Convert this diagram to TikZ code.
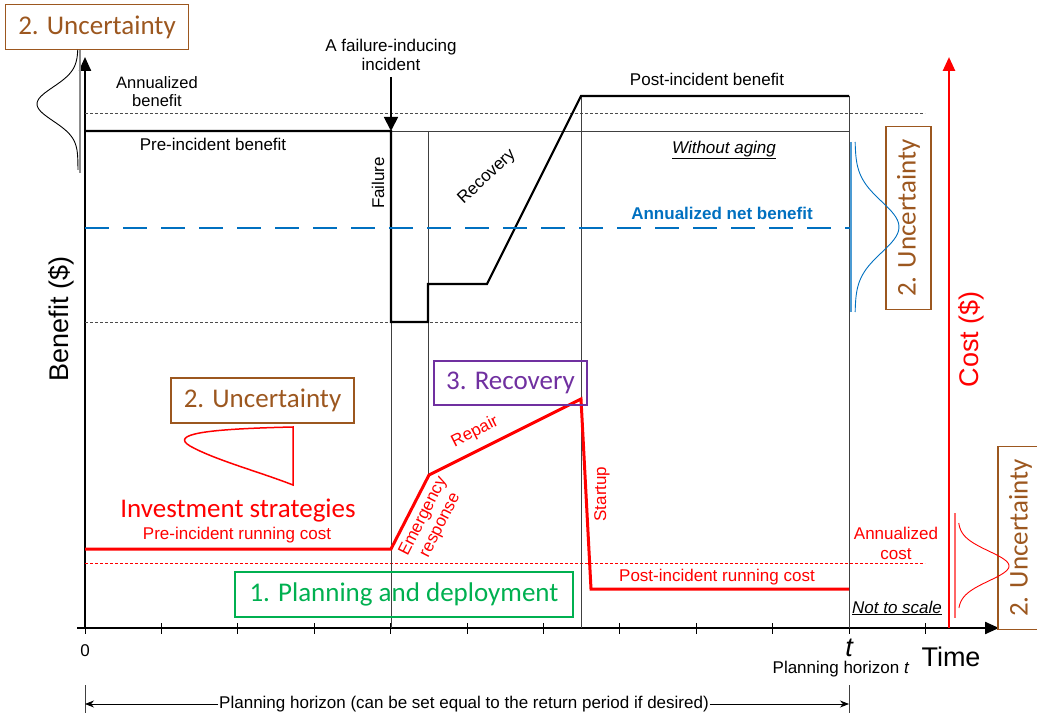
\documentclass[tikz,border=0pt]{standalone}
\usepackage{fontspec}
\setmainfont{Liberation Sans}
\newfontfamily\calibri{Carlito}
\usetikzlibrary{arrows.meta, positioning, calc}
\definecolor{uncbrown}{RGB}{156,87,31}
\definecolor{recpurple}{RGB}{112,48,160}
\definecolor{plangreen}{RGB}{0,176,80}
\definecolor{netblue}{RGB}{0,112,192}
\tikzset{
  phasebox/.style={rectangle, draw, line width=1.5pt, font=\calibri\fontsize{27}{30}\selectfont, minimum height=45pt, inner sep=0pt},
  uncbox/.style={phasebox, draw=uncbrown, text=uncbrown, minimum width=183pt},
  txt/.style={font=\fontsize{17}{19}\selectfont, inner sep=0pt, align=center},
  benefit/.style={line width=2.2pt, line join=miter},
  cost/.style={red, line width=3pt, line join=miter},
  thinline/.style={black!75, line width=0.7pt},
  guide/.style={black!70, line width=0.6pt, dash pattern=on 3pt off 2pt},
  axis/.style={line width=2.2pt, -{Triangle[length=14pt,width=12pt]}}
}

\begin{document}
\begin{tikzpicture}[
            x=1pt, y=-1pt,
            bigtxt/.style={font=\fontsize{27}{30}\selectfont, inner sep=0pt},
            bell/.style={line width=0.9pt, smooth},
            dim/.style={line width=0.8pt, -{Stealth[length=9pt,width=7pt]}}
        ]
            \useasboundingbox (0,0) rectangle (1037,719);

            % --- Ejes ---
            \coordinate (xstart) at (77,628);
            \coordinate (origin) at (85,628);
            \coordinate (xend) at (999,628);
            \coordinate (yend) at (85,57);
            \coordinate (cstart) at (949,628);
            \coordinate (cend) at (949,57);
            \draw[axis] (xstart) -- (xend);
            \draw[axis] (origin) -- (yend);
            \draw[axis, red, line width=2.6pt] (cstart) -- (cend);
            \foreach \i in {0,...,11}
                \draw[line width=1pt] ({85+76.4*\i},623) -- ++(0,11);

            \node (benefitlab) [bigtxt, rotate=90] at (61,319) {Benefit (\$)};
            \node (costlab) [bigtxt, rotate=90, text=red] at (971,339) {Cost (\$)};
            \node (timelab) [bigtxt] at (951,657) {Time};
            \node (zero) [txt] at (85,651) {0};
            \node (tlab) [bigtxt, font=\itshape\fontsize{27}{30}\selectfont] at (849,648) {t};
            \node (horizonlab) [txt] at (841,669) {Planning horizon \textit{t}};

            % --- Lineas guia ---
            \draw[guide] (85,113) -- (925,113);
            \draw[guide] (85,322) -- (581,322);
            \draw[guide, red] (85,563) -- (925,563);
            \draw[thinline] (391,131) -- (849,131);
            \draw[thinline] (391,131) -- (391,628);
            \draw[thinline] (428,131) -- (428,475);
            \draw[thinline] (581,96) -- (581,628);
            \draw[thinline] (849,96) -- (849,628);

            % --- Beneficio ---
            \coordinate (b0) at (85,131);
            \coordinate (inc) at (391,131);
            \coordinate (fl) at (391,322);
            \coordinate (fr) at (428,322);
            \coordinate (er) at (428,284);
            \coordinate (rs) at (487,284);
            \coordinate (re) at (581,96);
            \coordinate (bend) at (849,96);
            \draw[benefit] (b0) -- (inc) -- (fl) -- (fr) -- (er) -- (rs) -- (re) -- (bend);
            \draw[netblue, line width=2.6pt, dash pattern=on 24pt off 14pt] (85,228) -- (851,228);

            \node (incident) [txt] at (391,55) {A failure-inducing\\incident};
            \coordinate (arrtop) at (391,77);
            \draw[line width=1.8pt, -{Triangle[length=14pt,width=14pt]}] (arrtop) -- (inc);

            \node (annben) [txt, font=\fontsize{16.5}{18}\selectfont] at (157,92) {Annualized\\benefit};
            \node (preben) [txt] at (213,144) {Pre-incident benefit};
            \node (failure) [txt, rotate=90] at (378,183) {Failure};
            \node (recovery) [txt, rotate=43] at (487,177) {Recovery};
            \node (postben) [txt] at (707,79) {Post-incident benefit};
            \node (noaging) [txt, font=\itshape\fontsize{17}{19}\selectfont] at (724,150) {\underline{Without aging}};
            \node (netben) [txt, font=\bfseries\fontsize{17}{19}\selectfont, text=netblue] at (722,213) {Annualized net benefit};

            % --- Costo ---
            \coordinate (c0) at (85,549);
            \coordinate (ci) at (391,549);
            \coordinate (ce) at (429,475);
            \coordinate (cr) at (581,399);
            \coordinate (cs) at (591,589);
            \coordinate (cfin) at (849,589);
            \draw[cost] (c0) -- (ci) -- (ce) -- (cr) -- (cs) -- (cfin);

            \node (invest) [font=\calibri\fontsize{27}{30}\selectfont, text=red, inner sep=0pt] at (238,511) {Investment strategies};
            \node (precost) [txt, text=red] at (237,535) {Pre-incident running cost};
            \node (emerg) [txt, text=red, rotate=63] at (432,521) {Emergency\\response};
            \node (repair) [txt, text=red, rotate=27] at (475,432) {Repair};
            \node (startup) [txt, text=red, rotate=90] at (602,494) {Startup};
            \node (postcost) [txt, text=red] at (717,577) {Post-incident running cost};
            \node (anncost) [txt, text=red, font=\fontsize{17}{20}\selectfont] at (896,543) {Annualized\\cost};
            \node (noscale) [txt, font=\itshape\fontsize{17}{19}\selectfont] at (897,608) {\underline{Not to scale}};

            % --- Cajas ---
            \node (unc1) [uncbox] at (97,27) {2. Uncertainty};
            \node (unc2) [uncbox] at (262.5,400.5) {2. Uncertainty};
            \node (unc3) [uncbox, rotate=90] at (908.5,218) {2. Uncertainty};
            \node (unc4) [uncbox, rotate=90] at (1020.5,538) {2. Uncertainty};
            \node (rec) [phasebox, draw=recpurple, text=recpurple, minimum width=153pt, minimum height=44pt] at (510.5,383) {3. Recovery};
            \node (plan) [phasebox, draw=plangreen, text=plangreen, minimum width=338pt] at (404,594.5) {1. Planning and deployment};

            % --- Distribuciones ---
            \draw[black!45, line width=1.2pt] (80,50) -- (80,173);
            \draw[bell] plot[domain=50:170, samples=60] ({78-41*exp(-((\x-104)/24)^2)}, \x);
            \draw[netblue!70, line width=1.2pt] (851,142) -- (851,312);
            \draw[bell, netblue] plot[domain=142:312, samples=60] ({855+44*exp(-((\x-227)/36)^2)}, \x);
            \draw[red!60, line width=1.2pt] (955,513) -- (955,618);
            \draw[bell, red] plot[domain=523:608, samples=60] ({958+51*exp(-((\x-566)/21)^2)}, \x);
            \draw[red, line width=1.5pt] (293,427) .. controls (205,429) and (170,434) .. (190,446)
                .. controls (215,460) and (260,472) .. (293,485) -- cycle;

            % --- Horizonte de planeacion ---
            \draw[thinline] (85,685) -- (85,713);
            \draw[thinline] (849,685) -- (849,713);
            \coordinate (hl) at (85,704);
            \coordinate (hr) at (849,704);
            \node (horizon) [txt, fill=white, inner sep=1pt] at (464,704) {Planning horizon (can be set equal to the return period if desired)};
            \draw[dim] (horizon.west) -- (hl);
            \draw[dim] (horizon.east) -- (hr);

        \end{tikzpicture}
\end{document}
